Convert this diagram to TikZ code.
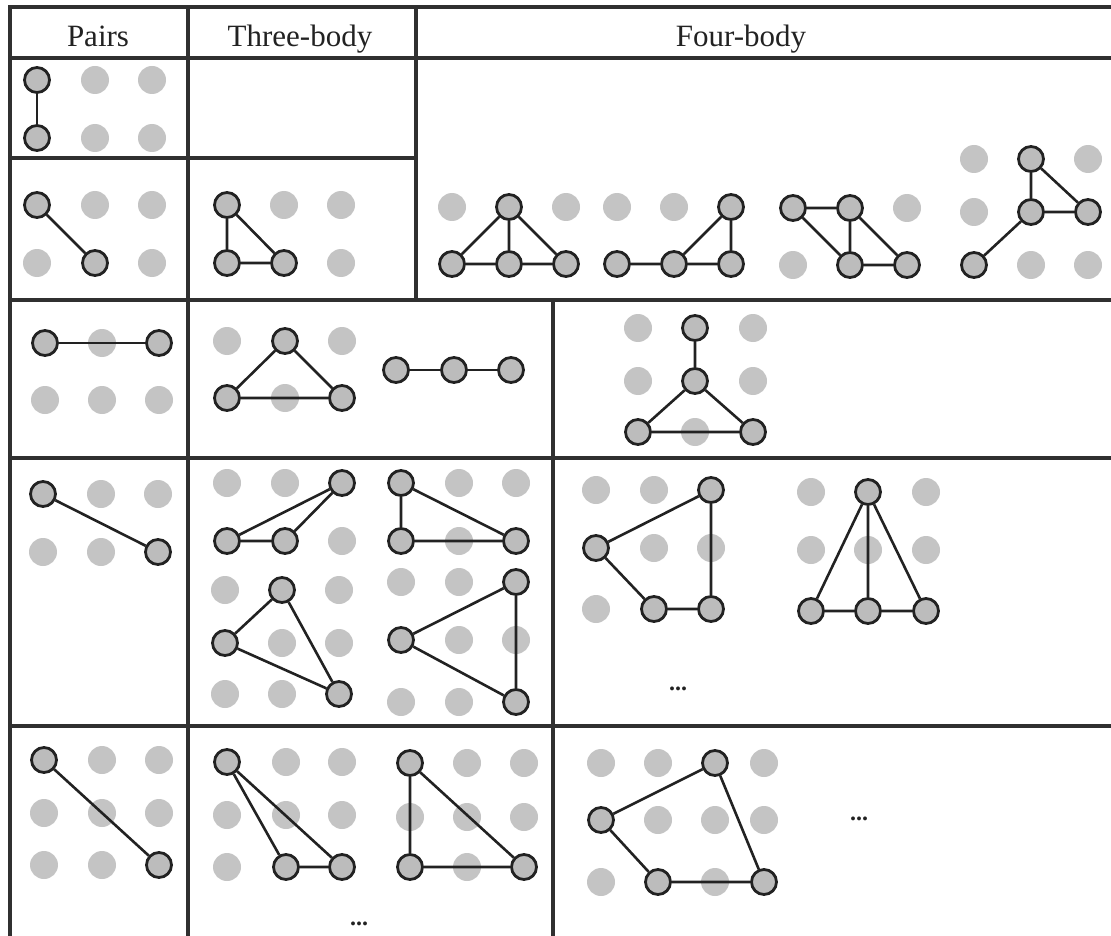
\documentclass[tikz,border=0pt]{standalone}
\usepackage{fontspec}
\setmainfont{Liberation Serif}
\definecolor{linec}{HTML}{222222}
\definecolor{gridc}{HTML}{303030}
\definecolor{gdotc}{HTML}{C4C4C4}
\definecolor{bnodec}{HTML}{BCBCBC}
\definecolor{textc}{HTML}{222222}
\begin{document}
\begin{tikzpicture}[x=1pt,y=-1pt,
  gdot/.style={circle,fill=gdotc,minimum size=28pt,inner sep=0pt},
  bnode/.style={circle,draw=linec,fill=bnodec,line width=2.8pt,minimum size=25pt,inner sep=0pt},
  edge/.style={draw=linec,line width=2.6pt},
  gridline/.style={draw=gridc,line width=3.2pt},
  head/.style={anchor=base,text=textc,inner sep=0pt,font=\fontsize{31}{36}\selectfont},
  more/.style={anchor=base,text=linec,inner sep=0pt,font=\fontsize{24}{28}\selectfont\bfseries}]
\useasboundingbox (0,0) rectangle (1111,936);

% table grid
\draw[gridline] (1125,7) -- (10,7) -- (10,950);
\draw[gridline] (10,58) -- (1125,58);
\draw[gridline] (10,158) -- (416,158);
\draw[gridline] (10,300) -- (1125,300);
\draw[gridline] (10,458) -- (1125,458);
\draw[gridline] (10,726) -- (1125,726);
\draw[gridline] (188,7) -- (188,950);
\draw[gridline] (416,7) -- (416,300);
\draw[gridline] (553,300) -- (553,950);

% headers
\node[head] (hp) at (98,47) {Pairs};
\node[head] (ht) at (300,47) {Three-body};
\node[head] (hf) at (741,47) {Four-body};

% gray dots
\foreach \x/\y [count=\i] in {95/80,152/80,95/138,152/138,
  95/205,152/205,37/263,152/263,
  284/205,341/205,341/263,
  452/207,566/207,617/207,674/207,907/208,793/265,
  974/159,1088/159,974/212,1031/265,1088/265,
  102/343,45/400,102/400,159/400,
  227/341,342/341,285/398,
  638/328,753/328,638/381,753/381,695/432,
  101/494,158/494,43/552,101/552,
  227/483,285/483,342/541,
  459/483,516/483,459/541,
  225/590,339/590,282/643,339/643,225/694,282/694,
  401/582,459/582,459/640,516/640,401/702,459/702,
  596/490,654/490,654/548,711/548,596/609,
  811/492,926/492,811/550,868/550,926/550,
  102/760,159/760,44/813,102/813,159/813,44/865,102/865,
  286/762,342/762,227/815,286/815,342/815,227/867,
  467/763,524/763,410/817,467/817,524/817,467/867,
  601/763,658/763,764/763,658/820,715/820,764/820,601/882,715/882}
  \node[gdot] (g\i) at (\x,\y) {};

% ---- row 1, pairs
\node[bnode] (r1pa) at (37,80) {};
\node[bnode] (r1pb) at (37,138) {};
\draw[edge] (r1pa) -- (r1pb);

% ---- row 2
\node[bnode] (r2pa) at (37,205) {};
\node[bnode] (r2pb) at (95,263) {};
\draw[edge] (r2pa) -- (r2pb);

\node[bnode] (r2ta) at (227,205) {};
\node[bnode] (r2tb) at (227,263) {};
\node[bnode] (r2tc) at (284,263) {};
\draw[edge] (r2ta) -- (r2tb) (r2ta) -- (r2tc) (r2tb) -- (r2tc);

\node[bnode] (r2at) at (509,207) {};
\node[bnode] (r2al) at (452,264) {};
\node[bnode] (r2am) at (509,264) {};
\node[bnode] (r2ar) at (566,264) {};
\draw[edge] (r2at) -- (r2al) (r2at) -- (r2am) (r2at) -- (r2ar) (r2al) -- (r2am) (r2am) -- (r2ar);

\node[bnode] (r2bt) at (731,207) {};
\node[bnode] (r2bl) at (617,264) {};
\node[bnode] (r2bm) at (674,264) {};
\node[bnode] (r2br) at (731,264) {};
\draw[edge] (r2bl) -- (r2bm) (r2bm) -- (r2br) (r2bm) -- (r2bt) (r2bt) -- (r2br);

\node[bnode] (r2ca) at (793,208) {};
\node[bnode] (r2cb) at (850,208) {};
\node[bnode] (r2cc) at (850,265) {};
\node[bnode] (r2cd) at (907,265) {};
\draw[edge] (r2ca) -- (r2cb) (r2ca) -- (r2cc) (r2cb) -- (r2cc) (r2cb) -- (r2cd) (r2cc) -- (r2cd);

\node[bnode] (r2dt) at (1031,159) {};
\node[bnode] (r2dm) at (1031,212) {};
\node[bnode] (r2dr) at (1088,212) {};
\node[bnode] (r2dl) at (974,265) {};
\draw[edge] (r2dt) -- (r2dm) (r2dt) -- (r2dr) (r2dm) -- (r2dr) (r2dm) -- (r2dl);

% ---- row 3
\node[bnode] (r3pa) at (45,343) {};
\node[bnode] (r3pb) at (159,343) {};
\draw[edge] (r3pa) -- (r3pb);

\node[bnode] (r3tt) at (285,341) {};
\node[bnode] (r3tl) at (227,398) {};
\node[bnode] (r3tr) at (342,398) {};
\draw[edge] (r3tt) -- (r3tl) (r3tt) -- (r3tr) (r3tl) -- (r3tr);

\node[bnode] (r3la) at (396,370) {};
\node[bnode] (r3lb) at (454,370) {};
\node[bnode] (r3lc) at (511,370) {};
\draw[edge] (r3la) -- (r3lb) (r3lb) -- (r3lc);

\node[bnode] (r3ft) at (695,328) {};
\node[bnode] (r3fm) at (695,381) {};
\node[bnode] (r3fl) at (638,432) {};
\node[bnode] (r3fr) at (753,432) {};
\draw[edge] (r3ft) -- (r3fm) (r3fm) -- (r3fl) (r3fm) -- (r3fr) (r3fl) -- (r3fr);

% ---- row 4
\node[bnode] (r4pa) at (43,494) {};
\node[bnode] (r4pb) at (158,552) {};
\draw[edge] (r4pa) -- (r4pb);

\node[bnode] (r41a) at (342,483) {};
\node[bnode] (r41b) at (227,541) {};
\node[bnode] (r41c) at (285,541) {};
\draw[edge] (r41b) -- (r41c) (r41b) -- (r41a) (r41c) -- (r41a);

\node[bnode] (r42a) at (401,483) {};
\node[bnode] (r42b) at (401,541) {};
\node[bnode] (r42c) at (516,541) {};
\draw[edge] (r42a) -- (r42b) (r42a) -- (r42c) (r42b) -- (r42c);

\node[bnode] (r43a) at (282,590) {};
\node[bnode] (r43b) at (225,643) {};
\node[bnode] (r43c) at (339,694) {};
\draw[edge] (r43a) -- (r43b) (r43a) -- (r43c) (r43b) -- (r43c);

\node[bnode] (r44a) at (516,582) {};
\node[bnode] (r44b) at (401,640) {};
\node[bnode] (r44c) at (516,702) {};
\draw[edge] (r44a) -- (r44b) (r44a) -- (r44c) (r44b) -- (r44c);

\node[bnode] (r4fa) at (711,490) {};
\node[bnode] (r4fb) at (596,548) {};
\node[bnode] (r4fc) at (654,609) {};
\node[bnode] (r4fd) at (711,609) {};
\draw[edge] (r4fa) -- (r4fb) (r4fb) -- (r4fc) (r4fc) -- (r4fd) (r4fa) -- (r4fd);

\node[bnode] (r4gt) at (868,492) {};
\node[bnode] (r4gl) at (811,611) {};
\node[bnode] (r4gm) at (868,611) {};
\node[bnode] (r4gr) at (926,611) {};
\draw[edge] (r4gt) -- (r4gl) (r4gt) -- (r4gm) (r4gt) -- (r4gr) (r4gl) -- (r4gm) (r4gm) -- (r4gr);

\node[more] (m1) at (678,690) {...};

% ---- row 5
\node[bnode] (r5pa) at (44,760) {};
\node[bnode] (r5pb) at (159,865) {};
\draw[edge] (r5pa) -- (r5pb);

\node[bnode] (r51a) at (227,762) {};
\node[bnode] (r51b) at (286,867) {};
\node[bnode] (r51c) at (342,867) {};
\draw[edge] (r51a) -- (r51b) (r51a) -- (r51c) (r51b) -- (r51c);

\node[bnode] (r52a) at (410,763) {};
\node[bnode] (r52b) at (410,867) {};
\node[bnode] (r52c) at (524,867) {};
\draw[edge] (r52a) -- (r52b) (r52a) -- (r52c) (r52b) -- (r52c);

\node[bnode] (r5fa) at (715,763) {};
\node[bnode] (r5fb) at (601,820) {};
\node[bnode] (r5fc) at (658,882) {};
\node[bnode] (r5fd) at (764,882) {};
\draw[edge] (r5fa) -- (r5fb) (r5fb) -- (r5fc) (r5fc) -- (r5fd) (r5fa) -- (r5fd);

\node[more] (m2) at (359,925) {...};
\node[more] (m3) at (859,820) {...};
\end{tikzpicture}
\end{document}
